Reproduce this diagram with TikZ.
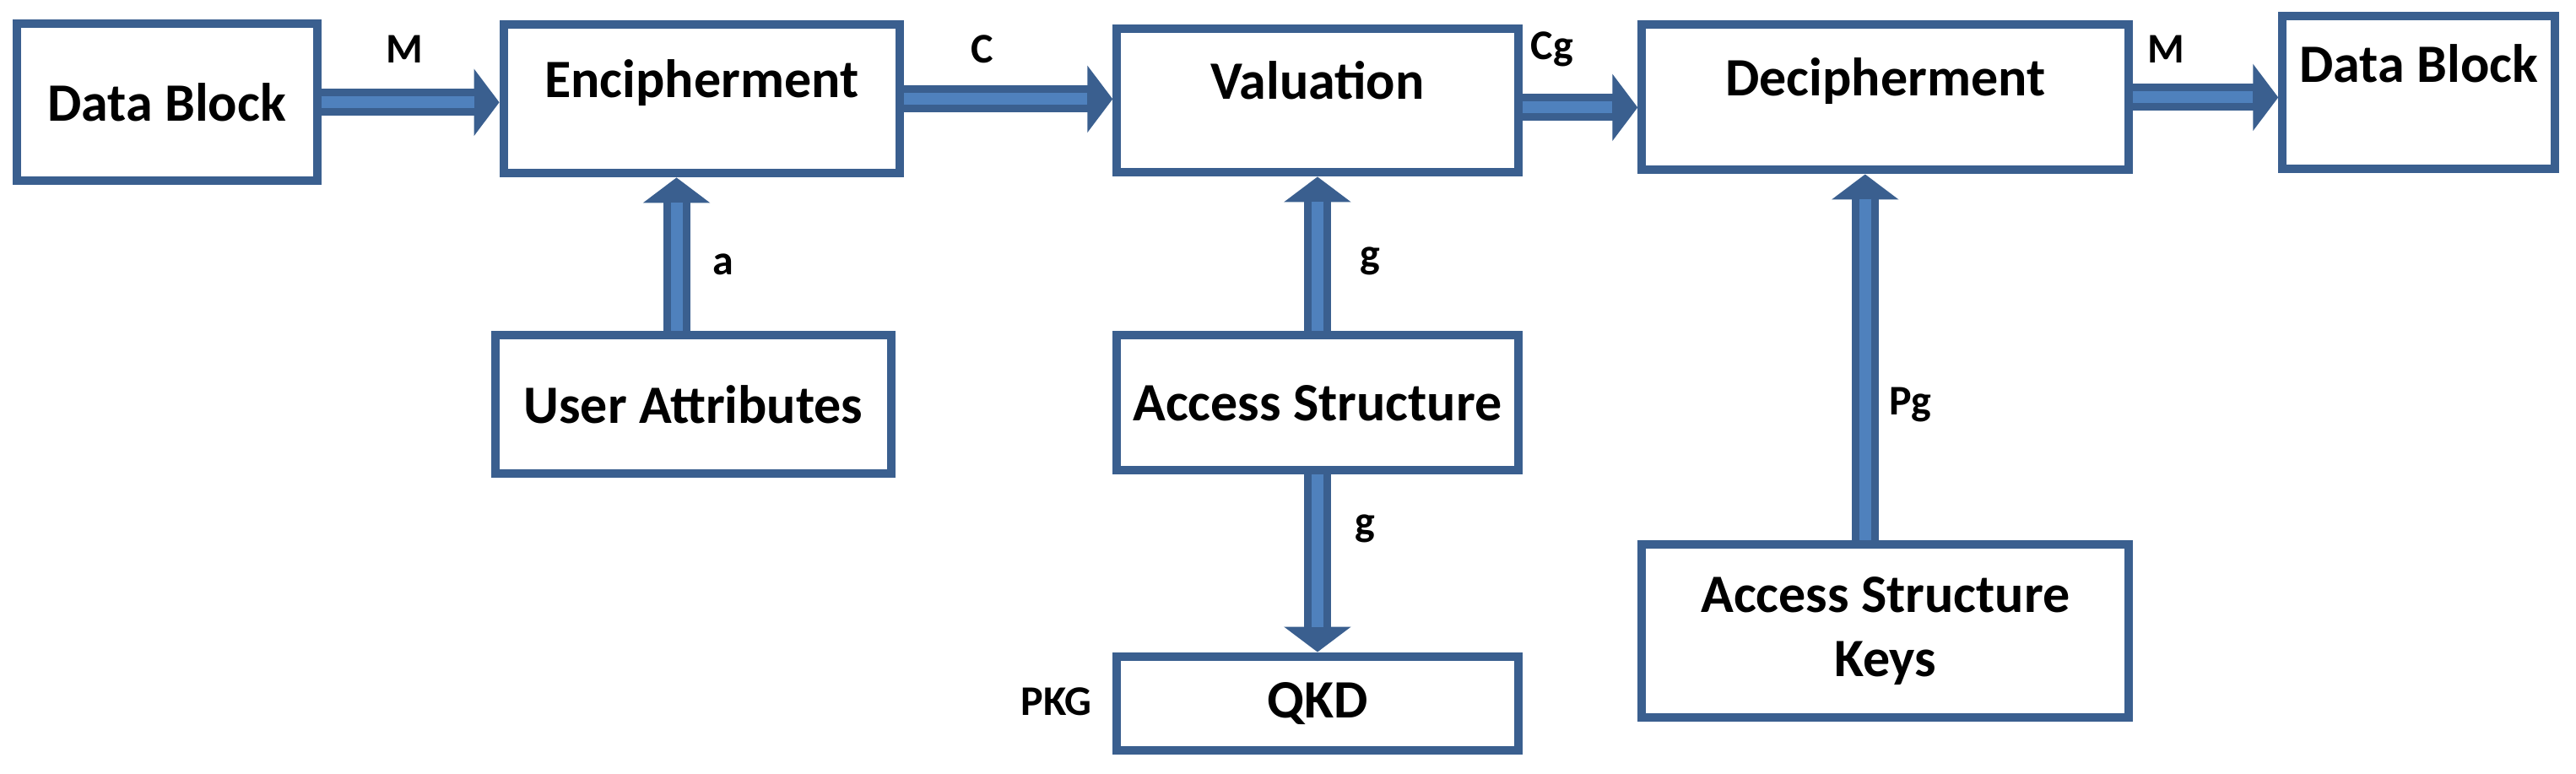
\documentclass[tikz,border=0pt]{standalone}
\usepackage{fontspec}
\setmainfont{Carlito}
\usetikzlibrary{arrows.meta}
\definecolor{dk}{HTML}{3A5F8F}
\definecolor{lt}{HTML}{4F81BD}
\tikzset{
 box/.style={draw=dk,line width=10pt,rectangle,inner sep=0pt,font=\fontsize{64}{76}\selectfont\bfseries,align=center},
 lbl/.style={font=\fontsize{50}{56}\selectfont\bfseries,inner sep=0pt},
 outer/.style={draw=dk,line width=32pt,-{Triangle[length=30pt,width=78pt]},fill=dk},
 inner/.style={draw=lt,line width=14pt,shorten >=30pt}
}
\newcommand{\blk}[2]{\draw[outer] #1 -- #2; \draw[inner] #1 -- #2;}
\begin{document}
\begin{tikzpicture}[x=1.956pt,y=-1.956pt]
\useasboundingbox (0,0) rectangle (1560.3,468.3);
\node[box,minimum width=182*1.956pt,minimum height=95*1.956pt] (db1) at (101,62) {Data Block};
\node[box,minimum width=240*1.956pt,minimum height=90*1.956pt] (enc) at (425,60) {Encipherment\\[-50pt]\strut};
\node[box,minimum width=243*1.956pt,minimum height=87*1.956pt] (val) at (798,61) {Valuation\\[-50pt]\strut};
\node[box,minimum width=295*1.956pt,minimum height=88*1.956pt] (dec) at (1142,59) {Decipherment\\[-50pt]\strut};
\node[box,minimum width=165*1.956pt,minimum height=93*1.956pt] (db2) at (1465,56) {Data Block\\[-30pt]\strut};
\node[box,minimum width=240*1.956pt,minimum height=84*1.956pt] (ua) at (420,245) {User Attributes};
\node[box,minimum width=243*1.956pt,minimum height=82*1.956pt] (as) at (798,244) {Access Structure};
\node[box,minimum width=243*1.956pt,minimum height=57*1.956pt] (qkd) at (798,426) {QKD};
\node[box,minimum width=295*1.956pt,minimum height=105*1.956pt] (ask) at (1142,382) {Access Structure\\Keys};
\blk{(db1.east)}{(enc.west |- db1.east)}
\blk{(enc.east)}{(val.west |- enc.east)}
\blk{([yshift=-8pt]val.east)}{([yshift=-8pt]dec.west |- val.east)}
\blk{(dec.east)}{(db2.west |- dec.east)}
\blk{([xshift=-20pt]ua.north)}{([xshift=-20pt]ua.north |- enc.south)}
\blk{(as.north)}{(as.north |- val.south)}
\blk{(as.south)}{(qkd.north)}
\blk{([xshift=-24pt]ask.north)}{([xshift=-24pt]ask.north |- dec.south)}
\node[lbl] (m1) at (245,30) {M};
\node[lbl] (c) at (595,30) {C};
\node[lbl] (cg) at (940,30) {Cg};
\node[lbl] (m2) at (1312,30) {M};
\node[lbl] (a) at (438,160) {a};
\node[lbl] (g1) at (830,158) {g};
\node[lbl] (g2) at (827,320) {g};
\node[lbl] (pg) at (1157,245) {Pg};
\node[lbl] (pkg) at (640,425) {PKG};
\end{tikzpicture}
\end{document}
